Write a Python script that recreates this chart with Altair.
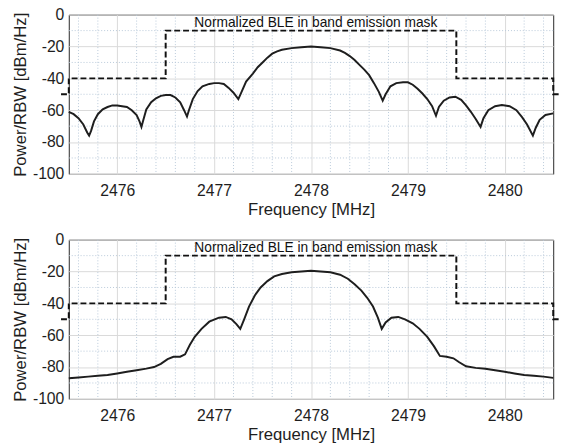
import altair as alt
import pandas as pd

# ---------------- data ----------------
freq_top = [2475.50, 2475.55, 2475.60, 2475.65, 2475.69, 2475.71, 2475.73, 2475.76, 2475.80, 2475.85,
            2475.90, 2475.95, 2476.00, 2476.05, 2476.10, 2476.15, 2476.20, 2476.23, 2476.25, 2476.27,
            2476.30, 2476.35, 2476.40, 2476.45, 2476.50, 2476.55, 2476.60, 2476.65, 2476.69, 2476.72,
            2476.74, 2476.78, 2476.83, 2476.88, 2476.95, 2477.00, 2477.05, 2477.10, 2477.15, 2477.20,
            2477.25, 2477.28, 2477.33, 2477.40, 2477.45, 2477.50, 2477.55, 2477.60, 2477.65, 2477.70,
            2477.80, 2477.90, 2478.00, 2478.10, 2478.20, 2478.30, 2478.35, 2478.40, 2478.45, 2478.50,
            2478.55, 2478.60, 2478.65, 2478.70, 2478.74, 2478.77, 2478.82, 2478.88, 2478.95, 2479.00,
            2479.05, 2479.10, 2479.15, 2479.20, 2479.25, 2479.29, 2479.32, 2479.37, 2479.43, 2479.49,
            2479.55, 2479.60, 2479.65, 2479.70, 2479.75, 2479.78, 2479.83, 2479.90, 2479.97, 2480.05,
            2480.12, 2480.18, 2480.23, 2480.29, 2480.32, 2480.36, 2480.42, 2480.50]
pow_top = [-61, -62.5, -65, -69, -74, -76, -73, -67, -62.5, -59.5,
           -58, -57, -57, -57.5, -58, -60, -63, -67, -70.5, -66,
           -59.5, -55, -52.5, -51, -50.5, -50.5, -52, -55, -60, -64,
           -60, -53, -48, -45, -43.5, -43, -43, -43.5, -46, -49,
           -53, -49, -42, -37, -33, -30, -27, -24.5, -23, -22,
           -21, -20.5, -20, -20.5, -21, -22.5, -24, -26, -28.5, -31.5,
           -34.5, -38, -43, -48.5, -54, -50, -45, -43, -42.5, -42.5,
           -44, -46.5, -49.5, -53, -57.5, -63.5, -58, -54, -52, -51.5,
           -53.5, -57, -61, -65.5, -70.5, -65, -60, -57.5, -56.8, -57.5,
           -60, -64.5, -69, -76, -71, -66, -63, -62]

freq_bot = [2475.50, 2475.60, 2475.70, 2475.80, 2475.90, 2476.00, 2476.10, 2476.20, 2476.30, 2476.38,
            2476.45, 2476.52, 2476.58, 2476.65, 2476.70, 2476.75, 2476.80, 2476.87, 2476.95, 2477.05,
            2477.12, 2477.18, 2477.23, 2477.27, 2477.31, 2477.36, 2477.42, 2477.48, 2477.55, 2477.62,
            2477.70, 2477.80, 2477.90, 2478.00, 2478.10, 2478.20, 2478.30, 2478.38, 2478.45, 2478.52,
            2478.58, 2478.64, 2478.69, 2478.73, 2478.77, 2478.83, 2478.90, 2478.97, 2479.05, 2479.12,
            2479.20, 2479.27, 2479.33, 2479.40, 2479.47, 2479.53, 2479.60, 2479.70, 2479.80, 2479.90,
            2480.00, 2480.10, 2480.20, 2480.30, 2480.40, 2480.50]
pow_bot = [-87, -86.5, -86, -85.5, -85, -84, -83, -82, -81, -80,
           -78, -75, -73.5, -73.5, -72, -66, -61, -56, -51.5, -49,
           -48.5, -50, -53, -56, -50, -42, -35, -30, -26, -23,
           -21.5, -20.5, -20, -19.5, -20, -20.5, -22, -24.5, -28, -32,
           -36.5, -42, -49, -56, -52, -49, -48.5, -50, -52.5, -56,
           -61, -67, -73, -73.5, -74.5, -77, -79.5, -80.5, -81, -82,
           -83, -84, -85, -85.5, -86, -86.8]

mask_freq = [2475.42, 2475.50, 2475.50, 2476.50, 2476.50, 2479.50, 2479.50, 2480.50, 2480.50, 2480.58]
mask_pow = [-50, -50, -40, -40, -10, -10, -40, -40, -50, -50]

x_ticks = [2476, 2477, 2478, 2479, 2480]
y_ticks = [0, -20, -40, -60, -80, -100]
x_minor = [2475.6, 2475.8, 2476.2, 2476.4, 2476.6, 2476.8, 2477.2, 2477.4, 2477.6, 2477.8,
           2478.2, 2478.4, 2478.6, 2478.8, 2479.2, 2479.4, 2479.6, 2479.8, 2480.2, 2480.4]
y_minor = [-10, -30, -50, -70, -90]

label_text = "Normalized BLE in band emission mask"
label_f = 2478.05
label_p = -8

x_title = "Frequency [MHz]"
y_title = "Power/RBW [dBm/Hz]"

FONT = "Liberation Sans"
INK = "#1e1e1e"

mask_df = pd.DataFrame({"f": mask_freq, "p": mask_pow, "i": list(range(len(mask_freq)))})
xminor_df = pd.DataFrame({"f": x_minor})
yminor_df = pd.DataFrame({"p": y_minor})
label_df = pd.DataFrame({"f": [label_f], "p": [label_p], "t": [label_text]})


def panel(freqs, pows):
    xs = alt.Scale(domain=[2475.5, 2480.5], nice=False, zero=False)
    ys = alt.Scale(domain=[-100, 0], nice=False, zero=False)
    xaxis = alt.Axis(values=x_ticks, title=x_title, labelExpr="'' + datum.value",
                     grid=True, ticks=False, domain=False, labelPadding=9, titlePadding=3,
                     labelFont=FONT, titleFont=FONT, labelFontSize=16, titleFontSize=17,
                     titleFontWeight="normal", labelColor=INK, titleColor=INK,
                     gridColor="#d9d9d9")
    yaxis = alt.Axis(values=y_ticks, title=y_title, labelExpr="'' + datum.value",
                     grid=True, ticks=False, domain=False, labelPadding=5, titlePadding=3,
                     labelFont=FONT, titleFont=FONT, labelFontSize=16, titleFontSize=17,
                     titleFontWeight="normal", labelColor=INK, titleColor=INK,
                     gridColor="#d9d9d9")
    X = alt.X("f:Q", scale=xs, axis=xaxis)
    Y = alt.Y("p:Q", scale=ys, axis=yaxis)

    gx = alt.Chart(xminor_df).mark_rule(color="#b9c9d9", strokeDash=[1, 2], strokeWidth=1).encode(x=X)
    gy = alt.Chart(yminor_df).mark_rule(color="#b9c9d9", strokeDash=[1, 2], strokeWidth=1).encode(y=Y)
    spec = alt.Chart(pd.DataFrame({"f": freqs, "p": pows})).mark_line(
        color=INK, strokeWidth=2).encode(x=X, y=Y)
    mask = alt.Chart(mask_df).mark_line(
        color="#111111", strokeWidth=2, strokeDash=[6, 3], clip=False).encode(x=X, y=Y, order="i:Q")
    txt = alt.Chart(label_df).mark_text(
        font=FONT, fontSize=14, color="#111111", align="center", baseline="alphabetic").encode(
        x=X, y=Y, text="t:N")
    return alt.layer(gx, gy, spec, mask, txt).properties(width=493, height=162)


chart = alt.vconcat(panel(freq_top, pow_top), panel(freq_bot, pow_bot), spacing=13).properties(
    padding={"left": 11, "top": 2, "right": 0, "bottom": 0},
    background="white"
).configure_view(
    stroke="#262626", strokeWidth=1
)

chart.save("out.html", embed_options={"renderer": "svg", "actions": False})
